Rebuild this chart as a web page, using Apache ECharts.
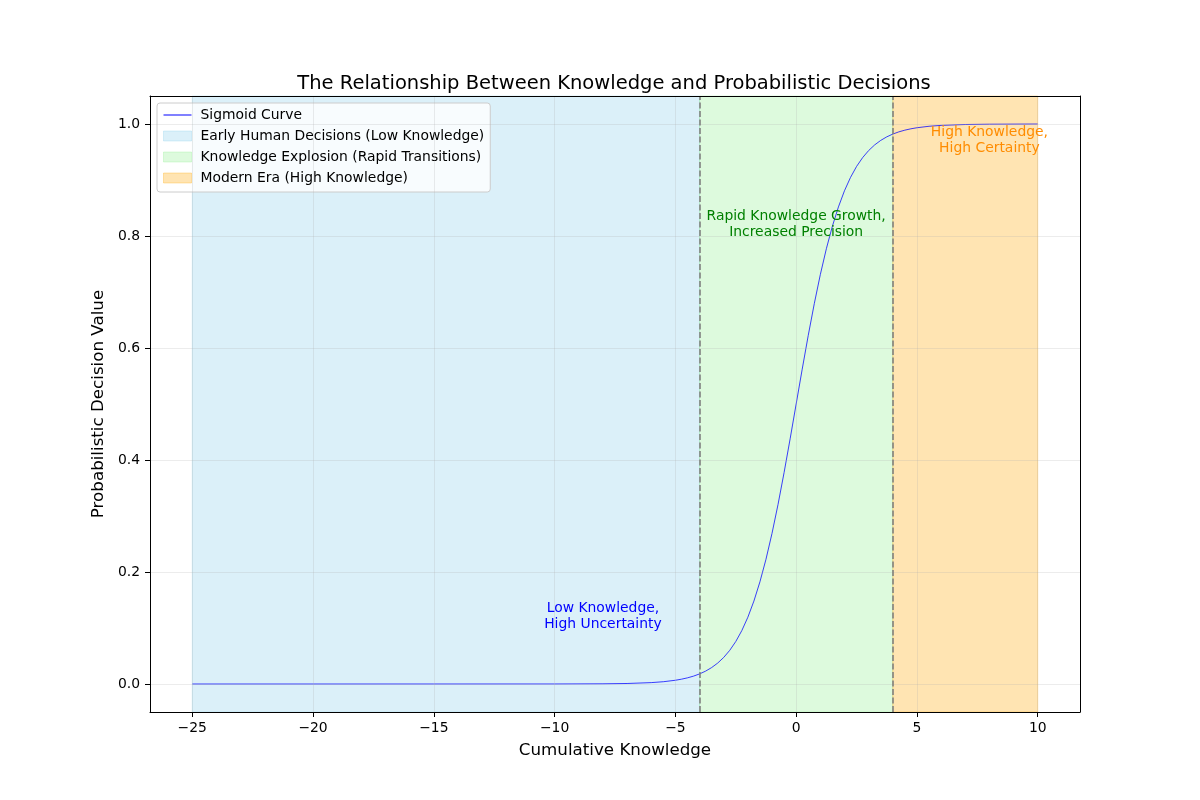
<!DOCTYPE html>
<html><head><meta charset="utf-8">
<script src="https://cdn.jsdelivr.net/npm/echarts@6/dist/echarts.min.js"></script>
<style>html,body{margin:0;padding:0;background:#fff}#chart{width:1200px;height:800px}</style>
</head><body><div id="chart"></div>
<script>
// ---- data ----
const knowledgeX = [-25,-20,-15,-10,-8,-7,-6,-5.5,-5,-4.75,-4.5,-4.25,-4,-3.75,-3.5,-3.25,-3,-2.75,-2.5,-2.25,-2,-1.75,-1.5,-1.25,-1,-0.75,-0.5,-0.25,0,0.25,0.5,0.75,1,1.25,1.5,1.75,2,2.25,2.5,2.75,3,3.25,3.5,3.75,4,4.25,4.5,4.75,5,5.5,6,7,8,10];
const decisionY = [0,0,0.0000003,0.0000454,0.000335,0.000911,0.00247,0.00407,0.00669,0.00858,0.01099,0.01406,0.01799,0.02298,0.02931,0.03732,0.04743,0.06008,0.07586,0.09535,0.1192,0.14805,0.18243,0.2227,0.26894,0.32082,0.37754,0.43782,0.5,0.56218,0.62246,0.67918,0.73106,0.7773,0.81757,0.85195,0.8808,0.90465,0.92414,0.93992,0.95257,0.96268,0.97069,0.97702,0.98201,0.98594,0.98901,0.99142,0.99331,0.99593,0.99753,0.99909,0.99966,0.99995];
const curveName = 'Sigmoid Curve';
const spanNames = ['Early Human Decisions (Low Knowledge)', 'Knowledge Explosion (Rapid Transitions)', 'Modern Era (High Knowledge)'];
const spanStarts = [-25, -4, 4];
const spanEnds = [-4, 4, 10];
const thresholds = [-4, 4];
const annotTexts = ['Low Knowledge,\nHigh Uncertainty', 'Rapid Knowledge Growth,\nIncreased Precision', 'High Knowledge,\nHigh Certainty'];
const annotX = [-8, 0, 8];
const annotY = [0.1, 0.8, 0.95];
const xTicks = [-25, -20, -15, -10, -5, 0, 5, 10];
const yTicks = [0, 0.2, 0.4, 0.6, 0.8, 1.0];

// ---- styles ----
const FONT = 'DejaVu Sans';
const spanColors = ['rgba(135,206,235,0.3)', 'rgba(144,238,144,0.3)', 'rgba(255,165,0,0.3)'];
const annotColors = ['#0000ff', '#008000', '#ff8c00'];
const X_MIN = -26.75, X_MAX = 11.75, Y_MIN = -0.05, Y_MAX = 1.05;
// thin horizontal bar icon whose bounding box spans the full legend handle
const LINE_ICON = 'path://M0,0L0,0M0,4.5L28,4.5L28,5.5L0,5.5ZM28,10L28,10';

const curveData = knowledgeX.map((x, i) => [x, decisionY[i]]);
const fmtX = v => String(v).replace('-', '\u2212');
const fmtY = v => v.toFixed(1);

const series = [];
spanNames.forEach((name, i) => {
  series.push({
    name: name, type: 'line', data: [], silent: true, z: 1,
    itemStyle: { color: spanColors[i] },
    markArea: {
      silent: true,
      itemStyle: { color: spanColors[i], borderColor: spanColors[i], borderWidth: 1 },
      data: [[{ xAxis: spanStarts[i] }, { xAxis: spanEnds[i] }]]
    }
  });
});
series.push({
  name: 'grid', type: 'line', data: [], silent: true, z: 2,
  markLine: {
    silent: true, symbol: ['none', 'none'], animation: false,
    label: { show: false },
    lineStyle: { color: 'rgba(176,176,176,0.3)', width: 0.8, type: 'solid' },
    data: xTicks.map(v => ({ xAxis: v })).concat(yTicks.map(v => ({ yAxis: v })))
  }
});
series.push({
  name: 'thresholds', type: 'line', data: [], silent: true, z: 3,
  markLine: {
    silent: true, symbol: ['none', 'none'], animation: false,
    label: { show: false },
    lineStyle: { color: 'rgba(128,128,128,0.8)', width: 2, type: [6, 2.5] },
    data: thresholds.map(v => ({ xAxis: v }))
  }
});
series.push({
  name: curveName, type: 'line', data: curveData, symbol: 'none', z: 4,
  lineStyle: { color: '#0000ff', width: 0.75 },
  itemStyle: { color: '#0000ff' }
});
series.push({
  name: 'annotations', type: 'scatter', symbolSize: 0, z: 5, silent: true,
  itemStyle: { opacity: 1 },
  data: annotTexts.map((t, i) => ({
    name: t, value: [annotX[i], annotY[i]],
    label: { color: annotColors[i] }
  })),
  label: {
    show: true, position: 'top', distance: 0, offset: [0, 4],
    formatter: '{b}', fontFamily: FONT, fontSize: 13.9, lineHeight: 16, align: 'center', opacity: 1
  }
});

const axisCommon = {
  type: 'value', z: 10,
  axisLine: { show: true, onZero: false, lineStyle: { color: '#000', width: 1 } },
  splitLine: { show: false }
};

const option = {
  animation: false,
  backgroundColor: '#fff',
  title: {
    text: 'The Relationship Between Knowledge and Probabilistic Decisions',
    left: 614, top: 74, textAlign: 'center', padding: 0,
    textStyle: { fontFamily: FONT, fontSize: 19.5, fontWeight: 'normal', color: '#000' }
  },
  legend: {
    orient: 'vertical', left: 157, top: 103,
    padding: [4, 6, 6, 6], itemGap: 5, itemWidth: 28, itemHeight: 10,
    backgroundColor: 'rgba(255,255,255,0.8)', borderColor: '#cccccc', borderWidth: 1, borderRadius: 3,
    textStyle: { fontFamily: FONT, fontSize: 13.9, color: '#000', lineHeight: 16, padding: [0, 0, 0, 4] },
    selectedMode: false,
    data: [{ name: curveName, icon: LINE_ICON, itemStyle: { color: '#0000ff', opacity: 1 } }].concat(spanNames.map((n, i) => ({
      name: n, icon: 'rect',
      itemStyle: { color: spanColors[i], borderColor: spanColors[i], borderWidth: 1 }
    })))
  },
  grid: { left: 150, right: 120, top: 96, bottom: 88 },
  xAxis: [
    Object.assign({}, axisCommon, {
      min: X_MIN, max: X_MAX, position: 'bottom',
      axisTick: { show: true, customValues: xTicks, length: 5, lineStyle: { color: '#000' } },
      axisLabel: { customValues: xTicks, formatter: fmtX, color: '#000', fontFamily: FONT, fontSize: 13.9, margin: 9 },
      name: 'Cumulative Knowledge', nameLocation: 'middle', nameGap: 30,
      nameTextStyle: { fontFamily: FONT, fontSize: 16.7, color: '#000' }
    }),
    Object.assign({}, axisCommon, {
      min: X_MIN, max: X_MAX, position: 'top',
      axisTick: { show: false }, axisLabel: { show: false }
    })
  ],
  yAxis: [
    Object.assign({}, axisCommon, {
      min: Y_MIN, max: Y_MAX, position: 'left',
      axisTick: { show: true, customValues: yTicks, length: 5, lineStyle: { color: '#000' } },
      axisLabel: { customValues: yTicks, formatter: fmtY, color: '#000', fontFamily: FONT, fontSize: 13.9, margin: 10 },
      name: 'Probabilistic Decision Value', nameLocation: 'middle', nameGap: 33,
      nameTextStyle: { fontFamily: FONT, fontSize: 16.7, color: '#000' }
    }),
    Object.assign({}, axisCommon, {
      min: Y_MIN, max: Y_MAX, position: 'right',
      axisTick: { show: false }, axisLabel: { show: false }
    })
  ],
  series: series
};

const chart = echarts.init(document.getElementById('chart'), null, { renderer: 'canvas' });
chart.setOption(option);
</script>
</body></html>
